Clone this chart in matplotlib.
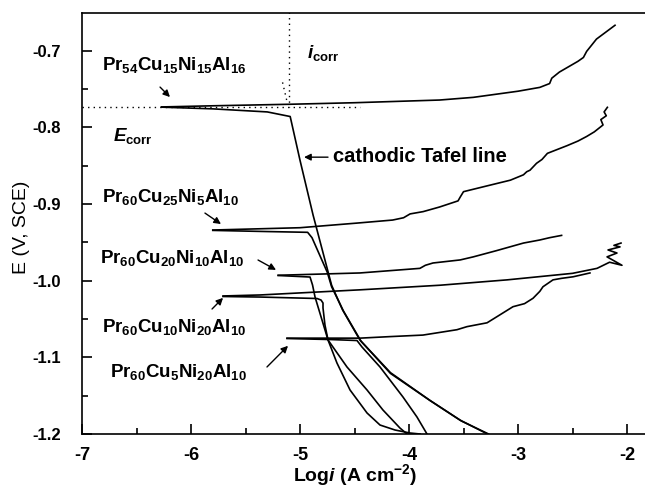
import numpy as np
import matplotlib
matplotlib.use('Agg')
import matplotlib.pyplot as plt
from matplotlib.ticker import MultipleLocator

plt.rcParams['font.family'] = ['Liberation Sans', 'DejaVu Sans']
plt.rcParams['mathtext.fontset'] = 'custom'
plt.rcParams['mathtext.rm'] = 'Liberation Sans:bold'
plt.rcParams['mathtext.bf'] = 'Liberation Sans:bold'
plt.rcParams['mathtext.it'] = 'Liberation Sans:italic:bold'
plt.rcParams['mathtext.default'] = 'bf'

# Pr54Cu15Ni15Al16
a1_x = [-6.27, -5.8, -5.09, -4.5, -3.72, -3.41, -3.0, -2.80, -2.71, -2.69, -2.62, -2.45, -2.40, -2.37, -2.28, -2.11]
a1_y = [-0.7735, -0.772, -0.770, -0.768, -0.7645, -0.761, -0.753, -0.748, -0.743, -0.736, -0.728, -0.714, -0.709, -0.701, -0.685, -0.667]
c1_x = [-6.27, -5.8, -5.30, -5.09, -5.0, -4.88, -4.71, -4.61, -4.45, -4.17, -3.81, -3.53, -3.28]
c1_y = [-0.7738, -0.776, -0.780, -0.786, -0.843, -0.9145, -1.006, -1.038, -1.0775, -1.120, -1.156, -1.182, -1.2]

# Pr60Cu25Ni5Al10
a2_x = [-5.80, -5.0, -4.48, -4.15, -4.05, -3.99, -3.87, -3.72, -3.55, -3.53, -3.50, -3.30, -3.07, -2.95, -2.92, -2.89,
        -2.83, -2.78, -2.73, -2.55, -2.45, -2.37, -2.30, -2.22, -2.24, -2.19, -2.21, -2.18]
a2_y = [-0.934, -0.931, -0.925, -0.921, -0.918, -0.913, -0.910, -0.904, -0.896, -0.891, -0.884, -0.877, -0.869, -0.862,
        -0.858, -0.856, -0.847, -0.842, -0.834, -0.824, -0.818, -0.812, -0.806, -0.797, -0.790, -0.785, -0.780, -0.774]
c2_x = [-5.80, -5.3, -4.93, -4.89, -4.75, -4.71, -4.60, -4.44, -4.17, -3.80, -3.52, -3.27]
c2_y = [-0.9345, -0.936, -0.937, -0.944, -0.989, -1.008, -1.040, -1.079, -1.121, -1.157, -1.183, -1.2]

# Pr60Cu20Ni10Al10
a3_x = [-5.20, -4.45, -3.90, -3.85, -3.78, -3.53, -3.41, -3.20, -2.95, -2.80, -2.71, -2.60]
a3_y = [-0.993, -0.990, -0.984, -0.980, -0.977, -0.973, -0.969, -0.961, -0.951, -0.947, -0.944, -0.941]
c3_x = [-5.20, -4.908, -4.885, -4.862, -4.798, -4.743, -4.569, -4.385, -4.239, -4.083, -4.018]
c3_y = [-0.9933, -0.9953, -1.0057, -1.0214, -1.0514, -1.0774, -1.1126, -1.1426, -1.1687, -1.1922, -1.2]

# Pr60Cu10Ni20Al10
a4_x = [-5.706, -5.367, -4.45, -3.716, -3.10, -2.50, -2.275, -2.16, -2.046, -2.183, -2.092, -2.174, -2.064, -2.12, -2.055]
a4_y = [-1.020, -1.0187, -1.012, -1.006, -0.999, -0.9905, -0.984, -0.976, -0.980, -0.969, -0.964, -0.960, -0.956, -0.954, -0.951]
c4_x = [-5.706, -5.367, -4.844, -4.807, -4.789, -4.789, -4.771, -4.743, -4.661, -4.541, -4.385, -4.266, -4.128, -3.991, -3.899]
c4_y = [-1.0207, -1.0214, -1.0233, -1.0253, -1.0292, -1.0357, -1.0579, -1.0774, -1.1074, -1.1426, -1.1726, -1.1883, -1.1948, -1.1987, -1.2]

# Pr60Cu5Ni20Al10
a5_x = [-5.119, -4.45, -4.174, -3.872, -3.56, -3.468, -3.284, -3.193, -3.046, -2.94, -2.862, -2.80, -2.771, -2.679, -2.60, -2.495, -2.34]
a5_y = [-1.075, -1.075, -1.073, -1.071, -1.064, -1.060, -1.055, -1.047, -1.034, -1.030, -1.023, -1.014, -1.008, -0.999, -0.997, -0.995, -0.990]
c5_x = [-5.119, -4.725, -4.477, -4.431, -4.266, -4.055, -3.927, -3.835]
c5_y = [-1.0755, -1.0768, -1.0781, -1.0866, -1.1126, -1.1518, -1.1778, -1.2]

e_corr = -0.773
log_i_corr = -5.098

fig = plt.figure(figsize=(6.45, 4.87), dpi=100)
ax = fig.add_axes([82 / 645, 53 / 487, 1 - 82 / 645, 421 / 487])

for xs, ys in [(a1_x, a1_y), (c1_x, c1_y), (a2_x, a2_y), (c2_x, c2_y), (a3_x, a3_y), (c3_x, c3_y),
               (a4_x, a4_y), (c4_x, c4_y), (a5_x, a5_y), (c5_x, c5_y)]:
    ax.plot(xs, ys, color='black', lw=1.2)

# Ecorr / icorr construction lines
ax.plot([-7, -4.45], [e_corr, e_corr], color='black', lw=1.0, ls=(0, (1, 3)))
ax.plot([log_i_corr, log_i_corr], [-0.65, e_corr], color='black', lw=1.0, ls=(0, (1, 3)))
ax.plot([-5.16, -5.12], [-0.7415, -0.766], color='black', lw=1.0, ls=(0, (1, 3)))

ax.set_xlim(-7, -7 + (645 - 82) / 109)
ax.set_ylim(-1.2, -0.651)
ax.xaxis.set_major_locator(MultipleLocator(1))
ax.xaxis.set_minor_locator(MultipleLocator(0.5))
ax.yaxis.set_major_locator(MultipleLocator(0.1))
ax.yaxis.set_minor_locator(MultipleLocator(0.05))
ax.yaxis.set_major_formatter(plt.FuncFormatter(lambda v, p: f'{v:.1f}'))
ax.xaxis.set_major_formatter(plt.FuncFormatter(lambda v, p: f'{v:.0f}'))
ax.tick_params(which='both', direction='in', top=False, right=False, width=1.2)
ax.tick_params(which='major', length=7, labelsize=13)
ax.tick_params(axis='y', which='major', pad=15, labelsize=12)
ax.tick_params(axis='x', which='major', pad=9)
ax.tick_params(which='minor', length=4)
for lab in ax.get_xticklabels() + ax.get_yticklabels():
    lab.set_fontweight('bold')
ax.spines['right'].set_visible(False)
for s in ['left', 'bottom', 'top']:
    ax.spines[s].set_linewidth(1.2)

ax.set_ylabel('E (V, SCE)', fontsize=14)
ax.yaxis.set_label_coords(-0.093, 0.49)
ax.set_xlabel(r'Log$\mathit{i}$ (A cm$^{-2}$)', fontsize=14, fontweight='bold')
ax.xaxis.set_label_coords(0.485, -0.066)

arrow = dict(arrowstyle='-|>', color='black', lw=1.0, mutation_scale=10, shrinkA=0, shrinkB=0)
tfs = 13.5

ax.text(-6.817, -0.7254, 'Pr$_{54}$Cu$_{15}$Ni$_{15}$Al$_{16}$', fontsize=tfs, fontweight='bold')
ax.annotate('', xy=(-6.193, -0.7606), xytext=(-6.284, -0.7476), arrowprops=arrow)

ax.text(-6.716, -0.818, r'$\mathit{E}_{corr}$', fontsize=tfs)
ax.text(-4.936, -0.7098, r'$\mathit{i}_{corr}$', fontsize=tfs)

ax.text(-4.697, -0.8454, 'cathodic Tafel line', fontsize=14.5, fontweight='bold')
ax.annotate('', xy=(-4.963, -0.839), xytext=(-4.743, -0.839), arrowprops=arrow)

ax.text(-6.817, -0.8975, 'Pr$_{60}$Cu$_{25}$Ni$_{5}$Al$_{10}$', fontsize=tfs, fontweight='bold')
ax.annotate('', xy=(-5.725, -0.9262), xytext=(-5.872, -0.9119), arrowprops=arrow)

ax.text(-6.835, -0.9774, 'Pr$_{60}$Cu$_{20}$Ni$_{10}$Al$_{10}$', fontsize=tfs, fontweight='bold')
ax.annotate('', xy=(-5.22, -0.9860), xytext=(-5.385, -0.9731), arrowprops=arrow)

ax.text(-6.817, -1.0667, 'Pr$_{60}$Cu$_{10}$Ni$_{20}$Al$_{10}$', fontsize=tfs, fontweight='bold')
ax.annotate('', xy=(-5.706, -1.0225), xytext=(-5.807, -1.037), arrowprops=arrow)

ax.text(-6.743, -1.1253, 'Pr$_{60}$Cu$_{5}$Ni$_{20}$Al$_{10}$', fontsize=tfs, fontweight='bold')
ax.annotate('', xy=(-5.11, -1.085), xytext=(-5.303, -1.1126), arrowprops=arrow)

fig.savefig('out.png', dpi=100)
